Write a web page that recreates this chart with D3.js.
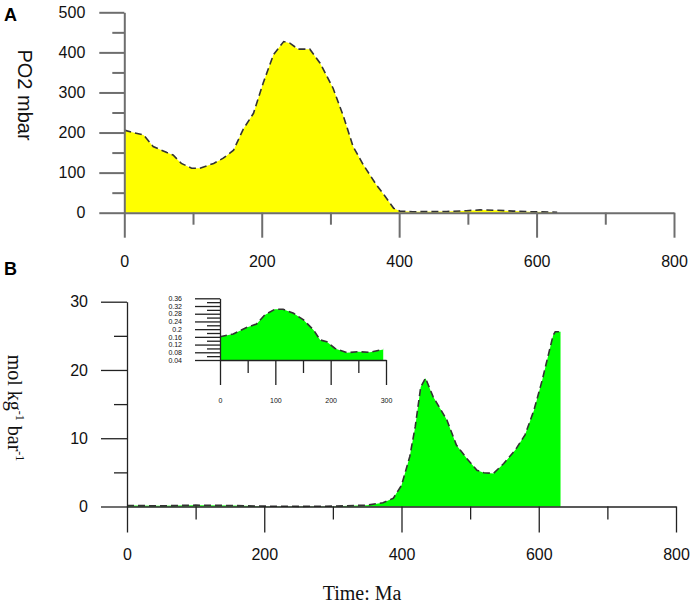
<!DOCTYPE html>
<html lang="en">
  <head>
    <meta charset="utf-8" />
    <title>PO2 and solubility through time</title>
    <script src="https://cdn.jsdelivr.net/npm/d3@7"></script>
    <style>
      body { margin: 0; background: #fff; }
    </style>
  </head>
  <body>
    <div id="root"></div>

    <script type="text/javascript">
      /************************************
       * data
       ************************************/

      // panel A: oxygen partial pressure (mbar) against time (Ma)
      const timeA = [0, 13, 28, 42, 62, 71, 83, 98, 110, 130, 144, 159, 173, 188, 202, 217, 232, 241, 253, 270, 285, 304, 319, 333, 348, 367, 380, 392, 401, 420, 469, 498, 518, 542, 566, 590, 622, 630];
      const po2 = [206, 200, 194, 165, 150, 144, 123, 111, 111, 123, 136, 156, 208, 248, 323, 394, 427, 423, 408, 408, 373, 310, 240, 165, 119, 69, 40, 11, 4, 2.5, 3, 5, 7, 6, 4, 2.5, 1.5, 1];

      // panel B: mol kg-1 bar-1 against time (Ma)
      const timeB = [0, 50, 100, 150, 200, 250, 300, 350, 373, 388, 400, 412, 420, 428, 435, 446, 466, 480, 495, 510, 520, 534, 549, 566, 580, 593, 605, 621, 624, 631];
      const solubility = [0.15, 0.1, 0.2, 0.15, 0.05, 0.02, 0.05, 0.2, 0.56, 1.2, 3.1, 7.3, 11.7, 17.5, 18.8, 16.1, 12.7, 9.0, 7.05, 5.3, 4.95, 4.85, 6.3, 8.3, 10.5, 14.1, 18.5, 25.1, 25.6, 25.6];

      // panel B inset: zoom on 0-300 Ma
      const timeInset = [0, 24, 48, 66, 81, 99, 114, 133, 151, 169, 181, 193, 208, 229, 250, 271, 295];
      const insetValues = [0.161, 0.175, 0.208, 0.227, 0.274, 0.303, 0.303, 0.282, 0.248, 0.196, 0.144, 0.135, 0.1, 0.078, 0.083, 0.08, 0.095];

      // tick values
      const timeTicks = [0, 200, 400, 600, 800];
      const timeMinor = [100, 300, 500, 700];
      const po2Ticks = [0, 100, 200, 300, 400, 500];
      const po2Minor = [50, 150, 250, 350, 450];
      const solTicks = [0, 10, 20, 30];
      const solMinor = [5, 15, 25];
      const insetYTicks = [0.04, 0.08, 0.12, 0.16, 0.2, 0.24, 0.28, 0.32, 0.36];
      const insetYMinor = [0.06, 0.1, 0.14, 0.18, 0.22, 0.26, 0.3, 0.34];
      const insetXTicks = [0, 100, 200, 300];
      const insetXMinor = [50, 150, 250];

      /**********************************
       * chart
       *************************************/

      const width = 692;
      const height = 604;

      const svg = d3.select("#root").append("svg");
      svg.attr("width", width);
      svg.attr("height", height);

      const sans = "Liberation Sans, Arial, sans-serif";
      const serif = "Liberation Serif, Times New Roman, serif";

      // draws a major + minor axis pair
      function drawAxis(g, axisFn, scale, major, minor, opts) {
        g.append("g")
          .call(
            axisFn(scale)
              .tickValues(minor)
              .tickSize(opts.minorSize)
              .tickSizeOuter(0)
              .tickFormat("")
          )
          .call((s) => s.select(".domain").remove());
        const a = g
          .append("g")
          .call(
            axisFn(scale)
              .tickValues(major)
              .tickSize(opts.majorSize)
              .tickSizeOuter(0)
              .tickPadding(opts.padding)
              .tickFormat(opts.format || d3.format("d"))
          );
        a.selectAll("text")
          .attr("font-family", sans)
          .attr("font-size", opts.fontSize)
          .attr("fill", opts.textColor || "#111");
        g.selectAll("path, line")
          .attr("stroke", opts.color)
          .attr("stroke-width", opts.strokeWidth);
      }

      function drawSeries(xs, ys, xScale, yScale, fill) {
        const pts = xs.map((t, i) => ({ t, v: ys[i] }));
        const area = d3
          .area()
          .x((d) => xScale(d.t))
          .y0(yScale(yScale.domain()[0]))
          .y1((d) => yScale(d.v));
        const line = d3
          .line()
          .x((d) => xScale(d.t))
          .y((d) => yScale(d.v));
        svg.append("path").datum(pts).attr("d", area).attr("fill", fill);
        svg
          .append("path")
          .datum(pts)
          .attr("d", line)
          .attr("fill", "none")
          .attr("stroke", "#333")
          .attr("stroke-width", 1.6)
          .attr("stroke-dasharray", "7,4");
      }

      /* ---------- panel A ---------- */
      const xA = d3.scaleLinear().domain([0, 800]).range([124.3, 674]);
      const yA = d3.scaleLinear().domain([0, 500]).range([212.7, 12.3]);

      drawSeries(timeA, po2, xA, yA, "#ffff00");

      const optsA = { majorSize: 25, minorSize: 12, color: "#6e6e6e", strokeWidth: 2, fontSize: 16 };
      drawAxis(
        svg.append("g").attr("transform", `translate(0,${yA(0)})`),
        d3.axisBottom, xA, timeTicks, timeMinor, { ...optsA, padding: 17.5 }
      );
      drawAxis(
        svg.append("g").attr("transform", `translate(${xA(0)},0)`),
        d3.axisLeft, yA, po2Ticks, po2Minor, { ...optsA, padding: 14 }
      );

      svg.append("text")
        .text("PO2 mbar")
        .attr("transform", "translate(18,95) rotate(90)")
        .attr("text-anchor", "middle")
        .attr("font-family", sans)
        .attr("font-size", 20)
        .attr("fill", "#111");

      svg.append("text")
        .text("A")
        .attr("x", 4)
        .attr("y", 21)
        .attr("font-family", sans)
        .attr("font-weight", "bold")
        .attr("font-size", 18);

      /* ---------- panel B ---------- */
      const xB = d3.scaleLinear().domain([0, 800]).range([127, 676]);
      const yB = d3.scaleLinear().domain([0, 30]).range([506.5, 301.7]);

      drawSeries(timeB, solubility, xB, yB, "#00ff00");

      // closing edge at the end of the record
      svg.append("line")
        .attr("x1", xB(timeB[timeB.length - 1]))
        .attr("x2", xB(timeB[timeB.length - 1]))
        .attr("y1", yB(solubility[solubility.length - 1]))
        .attr("y2", yB(0))
        .attr("stroke", "#00ff00")
        .attr("stroke-width", 1);

      const optsB = { majorSize: 26, minorSize: 13, color: "#222", strokeWidth: 1.3, fontSize: 16 };
      drawAxis(
        svg.append("g").attr("transform", `translate(0,${yB(0)})`),
        d3.axisBottom, xB, timeTicks, timeMinor, { ...optsB, padding: 16 }
      );
      drawAxis(
        svg.append("g").attr("transform", `translate(${xB(0)},0)`),
        d3.axisLeft, yB, solTicks, solMinor, { ...optsB, padding: 13 }
      );

      const yTitleB = svg.append("text")
        .attr("transform", "translate(8,408) rotate(90)")
        .attr("text-anchor", "middle")
        .attr("font-family", serif)
        .attr("font-size", 20)
        .attr("fill", "#111");
      yTitleB.append("tspan").text("mol kg");
      yTitleB.append("tspan").text("-1").attr("font-size", 12).attr("dy", -8);
      yTitleB.append("tspan").text(" bar").attr("font-size", 20).attr("dy", 8);
      yTitleB.append("tspan").text("-1").attr("font-size", 12).attr("dy", -8);

      svg.append("text")
        .text("Time: Ma")
        .attr("x", 362)
        .attr("y", 600)
        .attr("text-anchor", "middle")
        .attr("font-family", serif)
        .attr("font-size", 20)
        .attr("fill", "#111");

      svg.append("text")
        .text("B")
        .attr("x", 4)
        .attr("y", 275)
        .attr("font-family", sans)
        .attr("font-weight", "bold")
        .attr("font-size", 18);

      /* ---------- inset ---------- */
      const xI = d3.scaleLinear().domain([0, 300]).range([220, 386]);
      const yI = d3.scaleLinear().domain([0.04, 0.36]).range([360, 298.3]);

      drawSeries(timeInset, insetValues, xI, yI, "#00ff00");

      const optsI = { majorSize: 25, minorSize: 13, color: "#222", strokeWidth: 1.3, fontSize: 7 };
      drawAxis(
        svg.append("g").attr("transform", `translate(0,${yI(0.04)})`),
        d3.axisBottom, xI, insetXTicks, insetXMinor, { ...optsI, padding: 13 }
      );
      drawAxis(
        svg.append("g").attr("transform", `translate(${xI(0)},0)`),
        d3.axisLeft, yI, insetYTicks, insetYMinor,
        { ...optsI, padding: 13, format: (d) => String(+d.toFixed(2)) }
      );
    </script>
  </body>
</html>
